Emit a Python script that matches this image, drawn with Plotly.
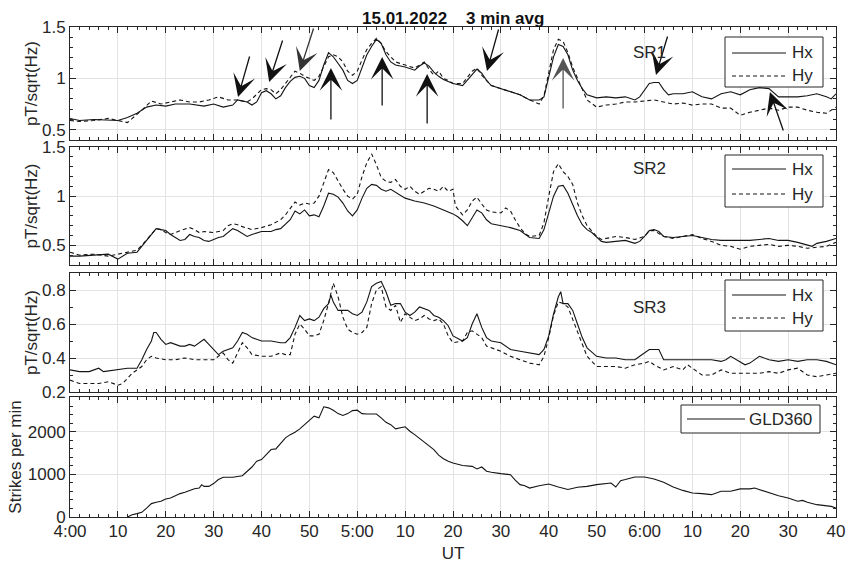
import plotly.graph_objects as go
from plotly.subplots import make_subplots

# ---------------- data (minutes after 04:00 UT) ----------------
sr1_hx_t = [0,2,5,10,12,14,16,18,20,22,25,28,30,32,34,35,37,38,39,40,41,42,43,44,45,46,47,48,49,50,
            51,52,53,54,55,56,57,58,59,60,61,62,63,64,65,66,67,68,70,72,73,74,75,76,77,78,79,80,82,84,
            85,86,87,88,90,92,94,96,98,99,100,101,102,103,104,105,106,107,108,110,112,114,116,118,119,
            120,121,122,123,124,125,126,128,130,132,134,136,138,140,142,144,146,148,150,152,154,156,158,159,160]
sr1_hx = [0.61,0.59,0.60,0.59,0.62,0.66,0.72,0.74,0.73,0.75,0.75,0.73,0.75,0.72,0.74,0.79,0.77,0.74,0.77,0.86,
          0.88,0.85,0.80,0.83,0.91,0.97,1.01,1.02,1.00,0.93,0.91,0.98,1.13,1.25,1.21,1.15,1.08,0.98,0.95,0.98,
          1.11,1.23,1.31,1.38,1.34,1.23,1.16,1.13,1.11,1.08,1.12,1.15,1.12,1.06,1.02,0.99,0.97,0.95,0.93,1.03,
          1.09,1.05,0.98,0.93,0.90,0.87,0.84,0.79,0.79,0.82,1.02,1.21,1.33,1.31,1.23,1.08,0.98,0.90,0.84,0.81,
          0.82,0.81,0.82,0.79,0.82,0.89,0.95,0.96,0.96,0.89,0.84,0.85,0.85,0.87,0.82,0.80,0.85,0.87,0.84,0.89,
          0.91,0.90,0.82,0.82,0.82,0.83,0.85,0.82,0.80,0.85]

sr1_hy_t = [0,2,5,8,10,12,13,15,17,19,21,23,25,27,29,31,33,35,37,38,40,41,42,43,44,45,46,47,48,49,
            50,51,52,53,54,55,56,57,58,59,60,61,62,63,64,65,66,67,68,70,72,73,74,75,76,77,78,79,80,82,
            84,85,86,88,90,92,94,96,98,99,100,101,102,103,104,105,106,107,108,110,112,114,116,118,120,
            122,124,126,128,130,132,134,136,138,140,142,144,146,148,150,152,154,156,158,160]
sr1_hy = [0.59,0.58,0.59,0.61,0.59,0.57,0.61,0.69,0.78,0.75,0.77,0.79,0.77,0.77,0.79,0.82,0.79,0.79,0.77,0.80,
          0.89,0.90,0.89,0.85,0.89,0.95,1.02,1.07,1.05,1.02,1.00,0.98,1.02,1.11,1.21,1.23,1.21,1.16,1.07,1.03,
          1.07,1.18,1.28,1.34,1.39,1.34,1.26,1.21,1.16,1.13,1.10,1.13,1.16,1.09,1.03,1.07,1.00,0.98,0.95,0.95,
          1.07,1.10,1.03,0.93,0.90,0.87,0.84,0.79,0.75,0.83,1.05,1.28,1.38,1.36,1.25,1.11,1.00,0.90,0.79,0.72,
          0.74,0.75,0.77,0.77,0.78,0.79,0.77,0.75,0.76,0.74,0.75,0.75,0.71,0.71,0.64,0.67,0.69,0.71,0.69,0.72,
          0.72,0.69,0.67,0.66,0.72]

sr2_hx_t = [0,2,5,8,10,12,14,15,16,17,18,19,20,21,22,23,24,25,26,27,28,29,30,31,32,33,34,35,36,37,
            38,40,42,43,44,45,46,47,48,49,50,51,52,53,54,55,56,57,58,59,60,61,62,63,64,65,66,67,68,70,
            72,74,76,78,80,81,82,83,84,85,86,87,88,90,92,94,96,98,99,100,101,102,103,104,105,106,107,108,109,110,
            111,112,114,116,118,119,120,121,122,123,124,126,128,130,132,134,136,138,140,142,144,146,148,150,152,
            154,155,156,158,160]
sr2_hx = [0.39,0.39,0.40,0.41,0.36,0.42,0.43,0.49,0.56,0.61,0.67,0.66,0.65,0.61,0.58,0.55,0.56,0.61,0.59,0.58,
          0.55,0.54,0.56,0.58,0.59,0.63,0.67,0.65,0.62,0.59,0.61,0.64,0.64,0.66,0.67,0.71,0.76,0.85,0.82,0.86,
          0.80,0.81,0.79,0.90,1.03,1.02,0.99,0.93,0.85,0.80,0.86,0.98,1.08,1.12,1.11,1.07,1.05,1.07,1.04,0.98,
          0.95,0.93,0.90,0.86,0.82,0.79,0.75,0.70,0.78,0.86,0.83,0.76,0.72,0.70,0.68,0.65,0.58,0.57,0.66,0.83,
          1.00,1.10,1.11,1.03,0.92,0.80,0.71,0.66,0.63,0.58,0.54,0.53,0.54,0.55,0.52,0.54,0.59,0.65,0.66,0.64,
          0.59,0.58,0.59,0.60,0.58,0.56,0.55,0.55,0.55,0.55,0.56,0.57,0.55,0.55,0.53,0.50,0.49,0.52,0.54,0.57]

sr2_hy_t = [0,2,5,8,10,12,14,15,16,17,18,19,20,21,22,23,25,26,27,28,30,32,33,34,35,36,38,40,42,44,
            45,46,47,48,49,50,51,52,53,54,55,56,57,58,59,60,61,62,63,64,65,66,67,68,69,70,71,72,73,74,
            75,76,77,78,79,80,80.5,82,83,84,85,86,87,88,90,91,92,93,94,95,96,98,99,100,101,102,103,104,105,106,
            107,108,110,111,112,114,116,118,120,121,122,124,126,128,130,132,134,136,138,140,142,144,146,148,150,
            152,154,156,158,160]
sr2_hy = [0.43,0.40,0.41,0.39,0.41,0.43,0.45,0.50,0.56,0.61,0.67,0.66,0.63,0.61,0.63,0.65,0.68,0.66,0.63,0.64,
          0.63,0.65,0.70,0.72,0.71,0.69,0.66,0.68,0.71,0.76,0.81,0.87,0.94,0.91,0.93,0.92,0.93,1.00,1.14,1.27,
          1.24,1.15,1.07,1.00,0.97,1.02,1.20,1.34,1.43,1.32,1.19,1.15,1.14,1.17,1.10,1.07,1.10,1.05,1.02,1.05,
          1.08,1.07,1.05,1.10,1.05,1.07,0.90,0.81,0.86,0.95,0.99,0.92,0.86,0.84,0.83,0.88,0.85,0.76,0.68,0.62,
          0.59,0.60,0.73,1.00,1.25,1.33,1.25,1.20,1.12,0.93,0.80,0.70,0.59,0.56,0.57,0.59,0.58,0.56,0.59,0.65,
          0.65,0.59,0.57,0.59,0.61,0.57,0.54,0.50,0.49,0.46,0.49,0.50,0.51,0.49,0.50,0.49,0.47,0.48,0.49,0.53]

sr3_hx_t = [0,2,4,6,7,10,12,14,15,16,17,17.5,18,19,20,21,22,23,24,25,26,27,28,29,30,31,32,33,34,35,
            36,37,38,39,40,42,44,45,46,47,48,49,50,51,52,53,54,54.5,55,56,57,58,59,60,61,62,63,64,65,66,
            67,68,69,70,71,72,73,74,75,76,77,78,79,80,82,83,84,85,86,87,88,90,92,94,96,98,99,100,101,102,
            102.5,103,104,105,106,107,108,110,112,114,116,118,119,120,121,122,123,124,126,128,130,132,134,136,137,
            138,140,141,142,144,146,148,150,152,154,156,158,160]
sr3_hx = [0.33,0.32,0.32,0.34,0.32,0.33,0.34,0.34,0.39,0.45,0.50,0.55,0.55,0.51,0.48,0.49,0.48,0.47,0.47,0.48,
          0.47,0.49,0.51,0.48,0.45,0.42,0.44,0.45,0.46,0.50,0.55,0.54,0.52,0.51,0.50,0.50,0.49,0.49,0.52,0.58,
          0.65,0.62,0.63,0.62,0.64,0.69,0.72,0.77,0.73,0.68,0.68,0.68,0.66,0.65,0.67,0.73,0.82,0.84,0.85,0.79,
          0.71,0.72,0.72,0.67,0.65,0.67,0.70,0.69,0.68,0.65,0.64,0.62,0.59,0.53,0.50,0.52,0.60,0.66,0.58,0.52,
          0.50,0.49,0.45,0.44,0.43,0.42,0.45,0.53,0.66,0.76,0.79,0.72,0.72,0.68,0.60,0.52,0.46,0.41,0.40,0.40,
          0.39,0.39,0.41,0.43,0.45,0.45,0.45,0.39,0.39,0.39,0.39,0.39,0.39,0.38,0.39,0.41,0.38,0.36,0.37,0.41,
          0.39,0.38,0.39,0.38,0.39,0.39,0.38,0.36]

sr3_hy_t = [0,2,4,6,8,10,11,13,15,16,17,18,20,22,24,26,28,30,31,32,33,34,35,36,37,38,40,42,44,45,
            46,47,48,49,50,51,52,53,54,55,56,57,58,59,60,61,62,63,64,65,66,67,68,69,70,71,72,73,74,75,
            76,77,78,79,80,82,83,84,85,86,87,88,90,92,94,96,98,99,100,101,102,103,104,105,106,107,108,110,112,114,
            116,118,120,121,122,124,126,128,129,130,132,134,136,138,140,142,144,146,148,150,152,154,156,158,160]
sr3_hy = [0.27,0.25,0.25,0.25,0.26,0.24,0.25,0.31,0.35,0.39,0.41,0.40,0.39,0.39,0.40,0.39,0.39,0.39,0.41,0.43,
          0.39,0.37,0.43,0.49,0.46,0.42,0.41,0.41,0.43,0.42,0.42,0.54,0.60,0.57,0.53,0.53,0.54,0.62,0.72,0.84,
          0.76,0.64,0.57,0.55,0.54,0.55,0.58,0.72,0.80,0.82,0.70,0.68,0.71,0.61,0.66,0.64,0.62,0.63,0.65,0.63,
          0.62,0.63,0.60,0.53,0.49,0.50,0.55,0.56,0.54,0.52,0.47,0.46,0.44,0.41,0.39,0.37,0.36,0.41,0.52,0.65,
          0.73,0.72,0.70,0.63,0.56,0.48,0.41,0.35,0.35,0.35,0.34,0.36,0.37,0.38,0.36,0.33,0.35,0.33,0.36,0.34,
          0.30,0.30,0.33,0.31,0.31,0.31,0.31,0.32,0.31,0.33,0.34,0.30,0.29,0.30,0.31]

gld_t = [12,13,14,15,16,17,18,19,20,21,22,23,24,25,26,27,27.5,28,29,30,31,32,34,36,37,38,39,40,41,42,
         43,44,45,46,47,48,49,50,51,52,53,54,55,56,57,58,59,60,61,62,64,65,66,67,68,70,71,72,73,74,
         75,76,77,78,79,80,82,84,85,86,87,88,90,92,93,94,95,96,98,100,102,104,106,108,110,112,113,114,115,116,
         118,120,122,124,126,128,130,132,134,136,138,140,142,143,144,146,148,150,152,153,154,156,158,159,160]
gld = [0,55,80,110,210,315,345,370,425,445,500,550,580,625,665,680,760,720,720,785,880,935,935,970,1075,1175,1310,1350,1465,1585,
       1600,1740,1860,1935,1990,2070,2170,2250,2370,2330,2590,2565,2510,2430,2385,2430,2500,2510,2430,2420,2420,2330,2225,2170,2070,2120,2015,1935,1850,1760,
       1680,1585,1455,1370,1310,1270,1210,1190,1130,1175,1075,1050,1020,995,865,760,735,680,735,775,705,645,700,720,760,785,800,705,855,880,
       940,940,895,815,705,625,565,550,525,605,605,660,660,680,645,565,500,445,370,390,345,290,265,250,210]

for a, b in [(sr1_hx_t, sr1_hx), (sr1_hy_t, sr1_hy), (sr2_hx_t, sr2_hx), (sr2_hy_t, sr2_hy),
             (sr3_hx_t, sr3_hx), (sr3_hy_t, sr3_hy), (gld_t, gld)]:
    assert len(a) == len(b), (len(a), len(b))

tick_vals = [0, 10, 20, 30, 40, 50, 60, 70, 80, 90, 100, 110, 120, 130, 140, 150, 160]
tick_text = ["4:00", "10", "20", "30", "40", "50", "5:00", "10", "20", "30", "40", "50",
             "6:00", "10", "20", "30", "40"]

# arrows in the SR1 panel: tip (t, value) and tail (t, value)
arrow_tip_t = [35.1, 41.6, 48.0, 54.5, 65.2, 74.6, 87.1, 103.0, 122.4, 146.2]
arrow_tip_v = [0.818, 0.964, 1.072, 1.10, 1.208, 1.042, 1.072, 1.198, 1.033, 0.867]
arrow_tail_t = [37.6, 44.5, 50.97, 54.5, 65.2, 74.6, 89.6, 103.0, 124.9, 149.1]
arrow_tail_v = [1.227, 1.383, 1.50, 0.585, 0.721, 0.546, 1.49, 0.692, 1.422, 0.478]
arrow_colors = ["#111", "#111", "#333", "#111", "#111", "#111", "#111", "#555", "#111", "#111"]

panel_labels = ["SR1", "SR2", "SR3"]
panel_label_t = [121.1, 121.1, 121.1]
panel_label_v = [1.247, 1.286, 0.70]

# legend entries per panel
legend_names = [["Hx", "Hy"], ["Hx", "Hy"], ["Hx", "Hy"], ["GLD360"]]
legend_dashes = [["solid", "4px,3px"], ["solid", "4px,3px"], ["solid", "4px,3px"], ["solid"]]

# ---------------- figure ----------------
INK = "#262626"
LINE = "#141414"
FONT = "Liberation Sans, Arial, Helvetica, sans-serif"
W, H = 847, 563
ML, MR, MT, MB = 70, 11, 27, 46
PW, PH = W - ML - MR, H - MT - MB

def px(xp):   # pixel x -> paper x
    return (xp - ML) / PW

def py(yp):   # pixel y -> paper y
    return (H - MB - yp) / PH

fig = make_subplots(rows=4, cols=1, shared_xaxes=True)

series = [[(sr1_hx_t, sr1_hx), (sr1_hy_t, sr1_hy)],
          [(sr2_hx_t, sr2_hx), (sr2_hy_t, sr2_hy)],
          [(sr3_hx_t, sr3_hx), (sr3_hy_t, sr3_hy)],
          [(gld_t, gld)]]
for r, group in enumerate(series):
    for k, (tt, vv) in enumerate(group):
        fig.add_trace(go.Scatter(x=tt, y=vv, mode="lines", name=legend_names[r][k], showlegend=False,
                                 line=dict(color=LINE, width=1.1, dash=legend_dashes[r][k])),
                      row=r + 1, col=1)

domains = [[py(140), 1.0], [py(265), py(147)], [py(392), py(273)], [0.0, py(397)]]
yranges = [[0.4, 1.5], [0.3, 1.5], [0.2, 0.9], [0, 2820]]
ytickvals = [[0.5, 1, 1.5], [0.5, 1, 1.5], [0.2, 0.4, 0.6, 0.8], [0, 1000, 2000]]
yticktext = [["0.5", "1", "1.5"], ["0.5", "1", "1.5"], ["0.2", "0.4", "0.6", "0.8"], ["0", "1000", "2000"]]
yminor = [0.1, 0.1, 0.1, 200]
ytitles = ["pT/sqrt(Hz)", "pT/sqrt(Hz)", "pT/sqrt(Hz)", "Strikes per min"]
ystandoff = [0, 0, 0, 1]

axis_common = dict(showline=True, linecolor=INK, linewidth=1, mirror="ticks",
                   ticks="inside", ticklen=6, tickwidth=1, tickcolor=INK, automargin=False,
                   showgrid=True, gridcolor="#e3e3e3", gridwidth=1, zeroline=False,
                   tickfont=dict(family=FONT, size=17, color=INK))

for i in range(4):
    n = "" if i == 0 else str(i + 1)
    fig.layout["xaxis" + n].update(
        range=[0, 160], tickmode="array", tickvals=tick_vals, ticktext=tick_text,
        showticklabels=(i == 3), ticklabelstandoff=-1,
        minor=dict(dtick=2, ticklen=3, tickcolor=INK, ticks="inside", showgrid=False),
        **axis_common)
    fig.layout["yaxis" + n].update(
        domain=domains[i], range=yranges[i], tickmode="array",
        tickvals=ytickvals[i], ticktext=yticktext[i],
        minor=dict(dtick=yminor[i], ticklen=3, tickcolor=INK, ticks="inside", showgrid=False),
        title=dict(text=ytitles[i], font=dict(family=FONT, size=17, color=INK), standoff=ystandoff[i]),
        **axis_common)

fig.layout.xaxis4.title = dict(text="UT", font=dict(family=FONT, size=17, color=INK), standoff=16)

# ---- MATLAB-style legend boxes (box, sample line, right-aligned label) ----
legend_boxes = [(725, 823, 37, 87), (725, 823, 155, 207), (725, 823, 280, 331), (681, 820, 405, 433)]
legend_rows = [[53, 76], [169, 194], [295, 318], [419]]
legend_line_x = [(732, 786), (732, 786), (732, 786), (687, 745)]
legend_text_right = [815, 815, 815, 814]

shapes = []
annotations = []
for p in range(4):
    x0, x1, y0, y1 = legend_boxes[p]
    shapes.append(dict(type="rect", xref="paper", yref="paper", x0=px(x0), x1=px(x1),
                       y0=py(y1), y1=py(y0), line=dict(color=INK, width=1), fillcolor="white",
                       layer="above"))
    for k, yrow in enumerate(legend_rows[p]):
        lx0, lx1 = legend_line_x[p]
        shapes.append(dict(type="line", xref="paper", yref="paper", x0=px(lx0), x1=px(lx1),
                           y0=py(yrow), y1=py(yrow),
                           line=dict(color=LINE, width=1.1, dash=legend_dashes[p][k]), layer="above"))
        annotations.append(dict(x=px(legend_text_right[p]), y=py(yrow), xref="paper", yref="paper",
                                xanchor="right", yanchor="middle", text=legend_names[p][k],
                                showarrow=False, font=dict(family=FONT, size=17, color=INK)))

for i in range(len(arrow_tip_t)):
    annotations.append(dict(x=arrow_tip_t[i], y=arrow_tip_v[i], xref="x", yref="y",
                            ax=arrow_tail_t[i], ay=arrow_tail_v[i], axref="x", ayref="y",
                            text="", showarrow=True, arrowhead=3, arrowsize=2.9,
                            arrowwidth=1.3, arrowcolor=arrow_colors[i], standoff=0))
for i, lab in enumerate(panel_labels):
    n = "" if i == 0 else str(i + 1)
    annotations.append(dict(x=panel_label_t[i], y=panel_label_v[i], xref="x" + n, yref="y" + n,
                            text=lab, showarrow=False,
                            font=dict(family=FONT, size=17, color=INK)))
annotations.append(dict(x=0.5, y=1.0, xref="paper", yref="paper", yanchor="bottom", yshift=-3,
                        text="<b>15.01.2022\u00a0\u00a0\u00a0 3 min avg</b>", showarrow=False,
                        font=dict(family=FONT, size=17, color="#111")))

fig.update_layout(
    width=W, height=H,
    margin=dict(l=ML, r=MR, t=MT, b=MB, autoexpand=False),
    paper_bgcolor="white", plot_bgcolor="white",
    font=dict(family=FONT, size=17, color=INK),
    annotations=annotations, shapes=shapes,
    showlegend=False,
)

fig.write_html("out.html", config={"displayModeBar": False},
               post_script="document.body.style.margin='0px';document.body.style.overflow='hidden';")
